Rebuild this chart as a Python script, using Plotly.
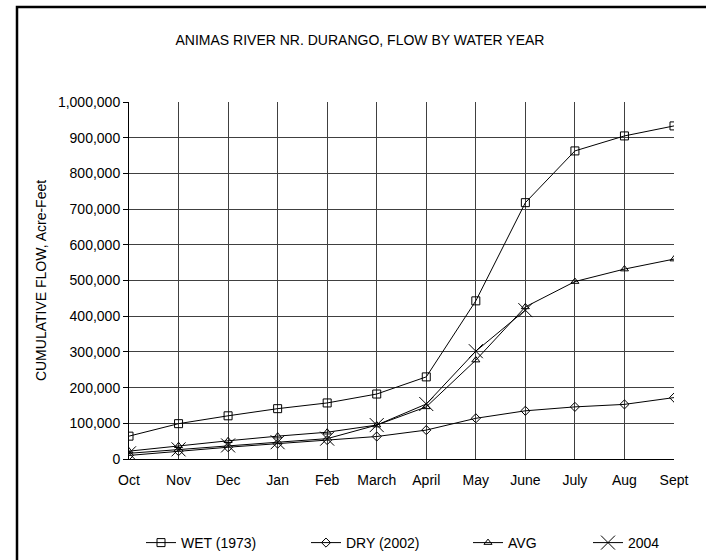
import plotly.graph_objects as go

months = ["Oct", "Nov", "Dec", "Jan", "Feb", "March", "April", "May", "June", "July", "Aug", "Sept"]

wet_1973 = [64000, 99000, 121000, 141000, 157000, 182000, 230000, 443000, 718000, 863000, 905000, 933000]
dry_2002 = [10000, 22000, 33000, 43000, 53000, 63000, 81000, 114000, 135000, 146000, 153000, 172000]
avg_flow = [22000, 37000, 51000, 64000, 75000, 95000, 146000, 277000, 426000, 497000, 532000, 560000]
wy_2004 = [16000, 27000, 38000, 47000, 57000, 95000, 154000, 302000, 417000]

FONT = "Liberation Sans, Arial, sans-serif"

# plot area geometry (pixels) used to place border and legends
W, H = 706, 560
L, R, T, B = 129, 32, 102, 101
PW = W - L - R
PH = H - T - B


def px_x(px):
    return (px - L) / PW


def px_y(py):
    return (H - B - py) / PH


series = [
    ("WET (1973)", wet_1973, "square-open", 8, "legend"),
    ("DRY (2002)", dry_2002, "diamond-open", 7, "legend2"),
    ("AVG", avg_flow, "triangle-up-open", 7, "legend3"),
    ("2004", wy_2004, "x-thin-open", 14, "legend4"),
]

fig = go.Figure()
for name, vals, sym, size, leg in series:
    fig.add_trace(go.Scatter(
        x=months[:len(vals)], y=vals, name=name, mode="lines+markers",
        line=dict(color="black", width=1),
        marker=dict(symbol=sym, size=size, color="black",
                    line=dict(color="black", width=1)),
        legend=leg,
    ))

# left edge of each legend entry (container pixels)
legend_left_px = [141, 306, 468, 588]
legend_common = dict(
    orientation="h", yanchor="middle", xanchor="left",
    xref="container", yref="container",
    font=dict(family=FONT, size=14, color="black"),
    bgcolor="rgba(0,0,0,0)",
)
legends = {}
for i, lx in enumerate(legend_left_px):
    key = "legend" if i == 0 else f"legend{i + 1}"
    legends[key] = dict(legend_common, x=lx / W, y=1 - 543 / H)

fig.update_layout(
    width=W, height=H,
    margin=dict(l=L, r=R, t=T, b=B),
    paper_bgcolor="white", plot_bgcolor="white",
    font=dict(family=FONT, size=14, color="black"),
    title=dict(text="ANIMAS RIVER NR. DURANGO, FLOW BY WATER YEAR",
               font=dict(family=FONT, size=14, color="black"),
               x=360 / W, xanchor="center", xref="container",
               y=1 - 40 / H, yanchor="middle", yref="container"),
    showlegend=True,
    **legends,
)

fig.update_xaxes(
    type="category", range=[0, 11],
    showgrid=True, gridcolor="#404040", gridwidth=1,
    showline=True, linecolor="black", linewidth=1,
    ticks="outside", ticklen=8, tickcolor="rgba(0,0,0,0)",
    tickfont=dict(family=FONT, size=14, color="black"),
    fixedrange=True,
)
fig.update_yaxes(
    range=[0, 1000000], dtick=100000, tickformat=",",
    showgrid=True, gridcolor="#404040", gridwidth=1,
    showline=True, linecolor="black", linewidth=1,
    ticks="outside", ticklen=5, tickcolor="black",
    tickfont=dict(family=FONT, size=14, color="black"),
    title=dict(text="CUMULATIVE FLOW, Acre-Feet",
               font=dict(family=FONT, size=14, color="black"), standoff=8),
    zeroline=False, fixedrange=True,
)

# chart outer frame
fig.add_shape(type="rect", xref="paper", yref="paper",
              x0=px_x(17), x1=px_x(W + 20), y0=px_y(H + 20), y1=px_y(7),
              line=dict(color="black", width=2.5), fillcolor="rgba(0,0,0,0)",
              layer="below")

fig.write_html("out.html")
